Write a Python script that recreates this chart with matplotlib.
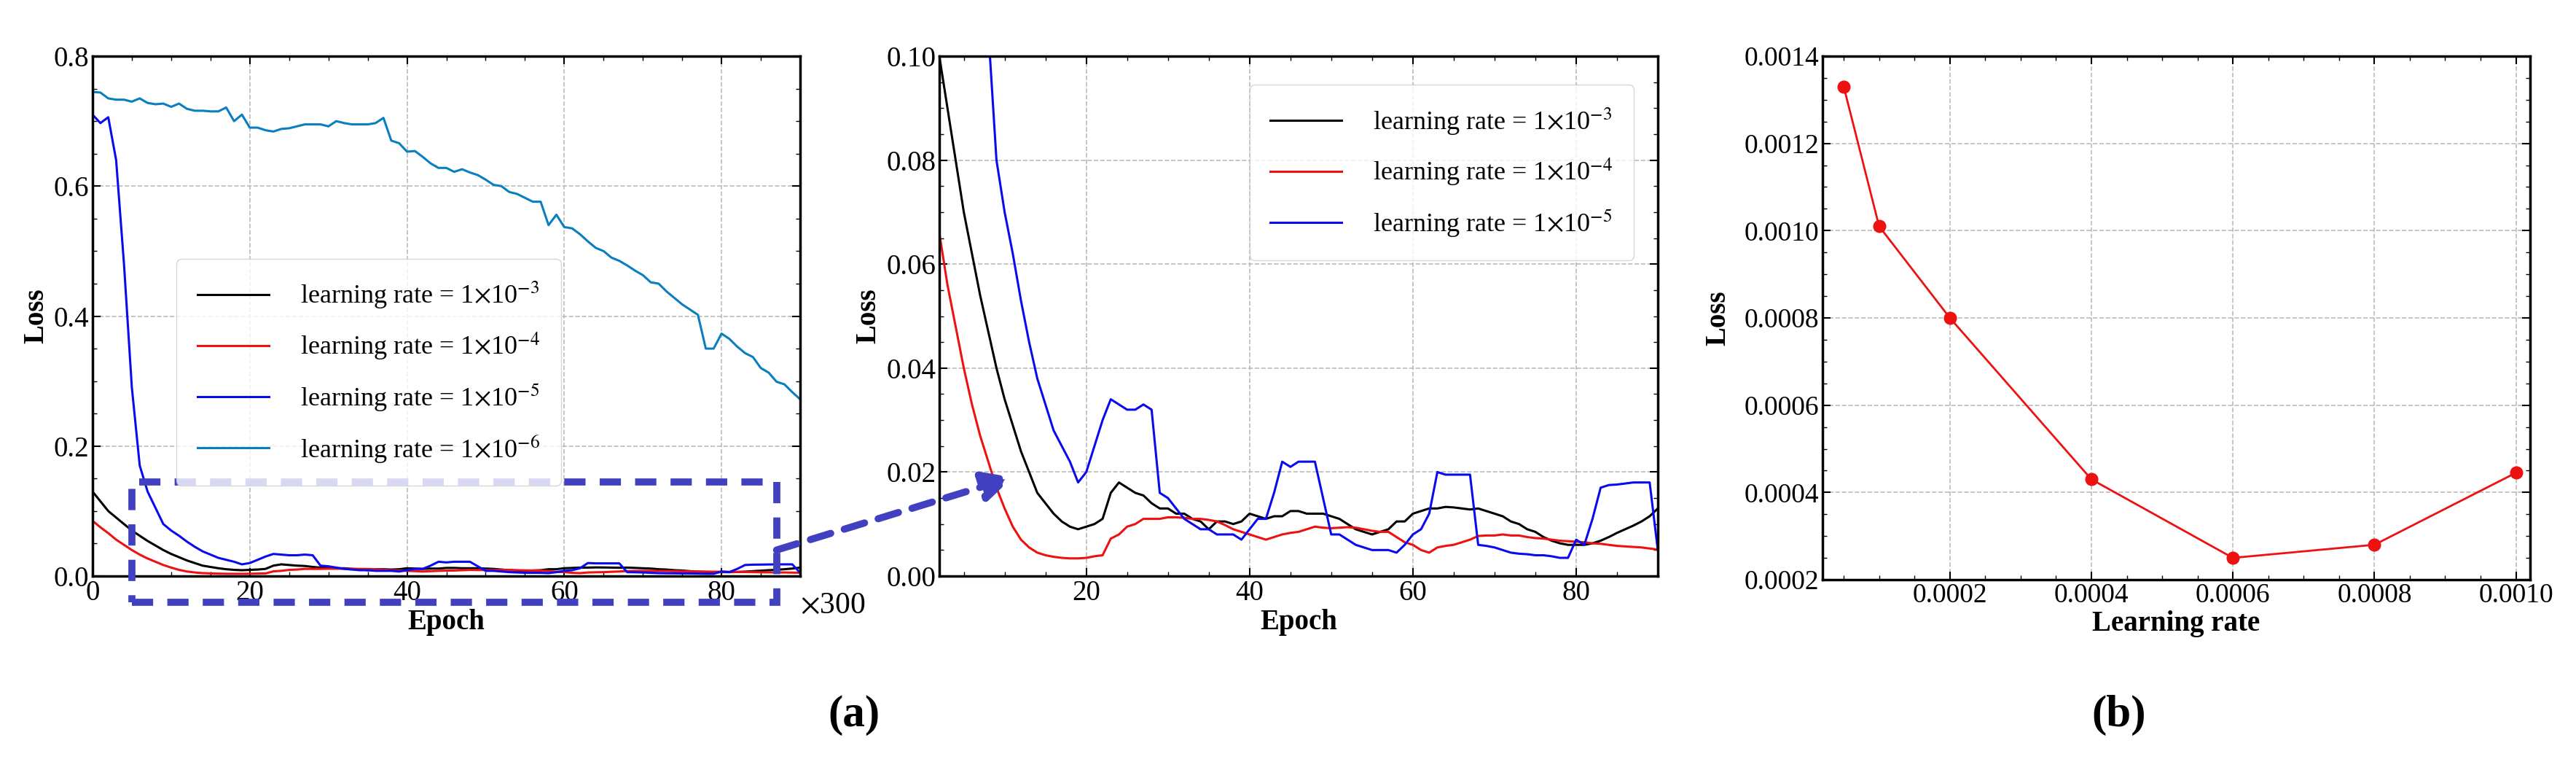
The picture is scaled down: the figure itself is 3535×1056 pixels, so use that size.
import numpy as np
import matplotlib
matplotlib.use("Agg")
import matplotlib.pyplot as plt
from matplotlib.patches import Rectangle, ConnectionPatch

plt.rcParams['font.family'] = ['Liberation Serif', 'DejaVu Serif']
plt.rcParams['mathtext.fontset'] = 'stix'

epochs = np.arange(0, 91)
loss_lr6 = [0.745,0.744,0.735,0.733,0.733,0.730,0.735,0.728,0.726,0.727,0.722,0.727,0.719,0.716,0.716,0.715,0.715,0.721,0.700,0.710,
            0.690,0.690,0.686,0.684,0.688,0.689,0.692,0.695,0.695,0.695,0.692,0.700,0.697,0.695,0.695,0.695,0.697,0.705,0.670,0.666,
            0.653,0.654,0.645,0.635,0.628,0.628,0.622,0.626,0.621,0.617,0.610,0.602,0.600,0.591,0.588,0.582,0.576,0.576,0.540,0.556,
            0.537,0.535,0.526,0.515,0.505,0.500,0.490,0.485,0.478,0.470,0.463,0.452,0.450,0.438,0.428,0.418,0.410,0.402,0.350,0.350,
            0.373,0.365,0.353,0.343,0.337,0.320,0.313,0.299,0.295,0.283,0.272]
loss_lr5 = [0.710,0.697,0.706,0.640,0.480,0.290,0.170,0.130,0.105,0.080,0.070,0.062,0.053,0.045,0.038,0.033,0.028,0.025,0.022,0.018,
            0.020,0.025,0.030,0.034,0.033,0.032,0.032,0.033,0.032,0.016,0.015,0.013,0.011,0.010,0.009,0.009,0.008,0.008,0.008,0.007,
            0.009,0.011,0.011,0.016,0.022,0.021,0.022,0.022,0.022,0.015,0.008,0.008,0.007,0.006,0.0055,0.005,0.005,0.005,0.0045,0.006,
            0.008,0.009,0.012,0.020,0.0195,0.0195,0.0195,0.0195,0.006,0.0058,0.0055,0.005,0.0045,0.0043,0.0042,0.004,0.004,0.0038,0.0035,0.0035,
            0.007,0.006,0.011,0.017,0.0175,0.0176,0.0178,0.018,0.018,0.018,0.005]
loss_lr3 = [0.130,0.115,0.100,0.090,0.080,0.070,0.062,0.054,0.047,0.040,0.034,0.029,0.024,0.020,0.016,0.014,0.012,0.0105,0.0095,0.009,
            0.0095,0.010,0.011,0.016,0.018,0.017,0.016,0.0155,0.014,0.013,0.013,0.012,0.012,0.011,0.0105,0.009,0.0105,0.0105,0.010,0.0105,
            0.012,0.0115,0.011,0.0115,0.0115,0.0125,0.0125,0.012,0.012,0.012,0.0115,0.011,0.010,0.009,0.0085,0.008,0.0085,0.009,0.0105,0.0105,
            0.012,0.0125,0.013,0.013,0.0133,0.0132,0.013,0.0128,0.013,0.0125,0.012,0.0115,0.0105,0.010,0.009,0.0085,0.0075,0.0068,0.0063,0.006,
            0.006,0.006,0.0063,0.0068,0.0075,0.0083,0.009,0.0097,0.0105,0.0115,0.013]
loss_lr4 = [0.085,0.075,0.066,0.056,0.048,0.040,0.033,0.027,0.022,0.017,0.013,0.0095,0.007,0.0055,0.0045,0.004,0.0037,0.0035,0.0034,0.0034,
            0.0035,0.0038,0.004,0.0072,0.008,0.0095,0.010,0.011,0.011,0.011,0.0113,0.0113,0.0112,0.011,0.011,0.0108,0.0105,0.0098,0.009,0.0085,
            0.008,0.0075,0.007,0.0075,0.008,0.0083,0.0085,0.009,0.0095,0.0093,0.0092,0.0093,0.0094,0.0093,0.009,0.0087,0.0085,0.0085,0.0075,0.0065,
            0.006,0.005,0.0045,0.0055,0.0058,0.006,0.0065,0.007,0.0077,0.0078,0.0078,0.008,0.0078,0.0078,0.0075,0.0073,0.0072,0.007,0.0068,0.0067,
            0.0066,0.0065,0.0063,0.0062,0.006,0.0058,0.0057,0.0056,0.0055,0.0053,0.0051]

lr_values = [0.00005, 0.0001, 0.0002, 0.0004, 0.0006, 0.0008, 0.0010]
lr_loss = [0.00133, 0.00101, 0.00080, 0.00043, 0.00025, 0.00028, 0.000445]

labels = [r'learning rate = 1$\times$10$^{-3}$', r'learning rate = 1$\times$10$^{-4}$',
          r'learning rate = 1$\times$10$^{-5}$', r'learning rate = 1$\times$10$^{-6}$']
colors = ['black', '#ee1111', '#0a0aee', '#0a7fc0']

W, H = 3535, 1056
fig = plt.figure(figsize=(W/100, H/100), dpi=100)
def ax_px(x0, x1, y0, y1):
    return fig.add_axes([x0/W, 1-y1/H, (x1-x0)/W, (y1-y0)/H])

ax1 = ax_px(127, 1098, 77, 790)
ax2 = ax_px(1289, 2275, 77, 790)
ax3 = ax_px(2501, 3472, 77, 795)

def style(ax, fs):
    ax.tick_params(which='both', direction='in', top=True, right=True, labelsize=fs)
    ax.tick_params(which='major', length=8, width=1.5)
    ax.tick_params(which='minor', length=4, width=1)
    ax.minorticks_on()
    ax.grid(True, which='major', linestyle='--', color='#bbbbbb', linewidth=1.2)
    for s in ax.spines.values():
        s.set_linewidth(2.5)
    ax.set_xlabel('Epoch', fontsize=fs, fontweight='bold', labelpad=2)
    ax.set_ylabel('Loss', fontsize=fs, fontweight='bold', labelpad=4)

series = [loss_lr3, loss_lr4, loss_lr5, loss_lr6]
for s, c, l in zip(series, colors, labels):
    ax1.plot(epochs, s, color=c, lw=2.2, label=l)
ax1.set_xlim(0, 90); ax1.set_ylim(0, 0.8)
ax1.set_xticks([0, 20, 40, 60, 80]); ax1.set_yticks([0, 0.2, 0.4, 0.6, 0.8])
ax1.set_yticklabels(['0.0', '0.2', '0.4', '0.6', '0.8'])
style(ax1, 28)
ax1.legend(loc='upper left', bbox_to_anchor=(0.1, 0.635), fontsize=26, handlelength=2.7,
           handletextpad=1.2, labelspacing=0.75, borderpad=0.8, fancybox=True)
ax1.text(1.0, -0.03, r'$\times$300', transform=ax1.transAxes, fontsize=30, va='top', ha='left')

for s, c, l in zip(series[:3], colors[:3], labels[:3]):
    ax2.plot(epochs, s, color=c, lw=2.2, label=l)
ax2.set_xlim(2, 90); ax2.set_ylim(0, 0.1)
ax2.set_xticks([20, 40, 60, 80]); ax2.set_yticks([0, 0.02, 0.04, 0.06, 0.08, 0.10])
ax2.set_yticklabels(['0.00', '0.02', '0.04', '0.06', '0.08', '0.10'])
style(ax2, 28)
ax2.legend(loc='upper right', fontsize=26, handlelength=2.7, handletextpad=1.2,
           labelspacing=0.75, borderpad=0.8, bbox_to_anchor=(0.985, 0.97))

ax3.plot(lr_values, lr_loss, color='#ee1111', lw=2, marker='o', markersize=12)
ax3.set_xlim(0.00002, 0.00102); ax3.set_ylim(0.0002, 0.0014)
ax3.set_xticks([0.0002, 0.0004, 0.0006, 0.0008, 0.0010])
ax3.set_xticklabels(['0.0002', '0.0004', '0.0006', '0.0008', '0.0010'])
ax3.set_yticks([0.0002, 0.0004, 0.0006, 0.0008, 0.0010, 0.0012, 0.0014])
ax3.set_yticklabels(['0.0002', '0.0004', '0.0006', '0.0008', '0.0010', '0.0012', '0.0014'])
style(ax3, 27)
ax3.set_xlabel('Learning rate', fontsize=28, fontweight='bold', labelpad=2)
ax3.set_ylabel('Loss', fontsize=28, fontweight='bold', labelpad=12)

box_c = '#4040c0'
rect = Rectangle((5, -0.04), 82, 0.185, fill=False, edgecolor=box_c, lw=7,
                 linestyle=(0, (3, 2)), clip_on=False, zorder=5)
ax1.add_patch(rect)
con = ConnectionPatch(xyA=(87, 0.04), coordsA=ax1.transData, xyB=(11, 0.019), coordsB=ax2.transData,
                      arrowstyle='-|>,head_length=1.2,head_width=0.6', color=box_c, lw=7,
                      linestyle=(0, (3, 2)), mutation_scale=20, zorder=6)
fig.add_artist(con)

fig.text(1172/W, 1-981/H, '(a)', fontsize=44, fontweight='bold', ha='center', va='center')
fig.text(2908/W, 1-981/H, '(b)', fontsize=44, fontweight='bold', ha='center', va='center')

fig.savefig('out.png', dpi=100)
